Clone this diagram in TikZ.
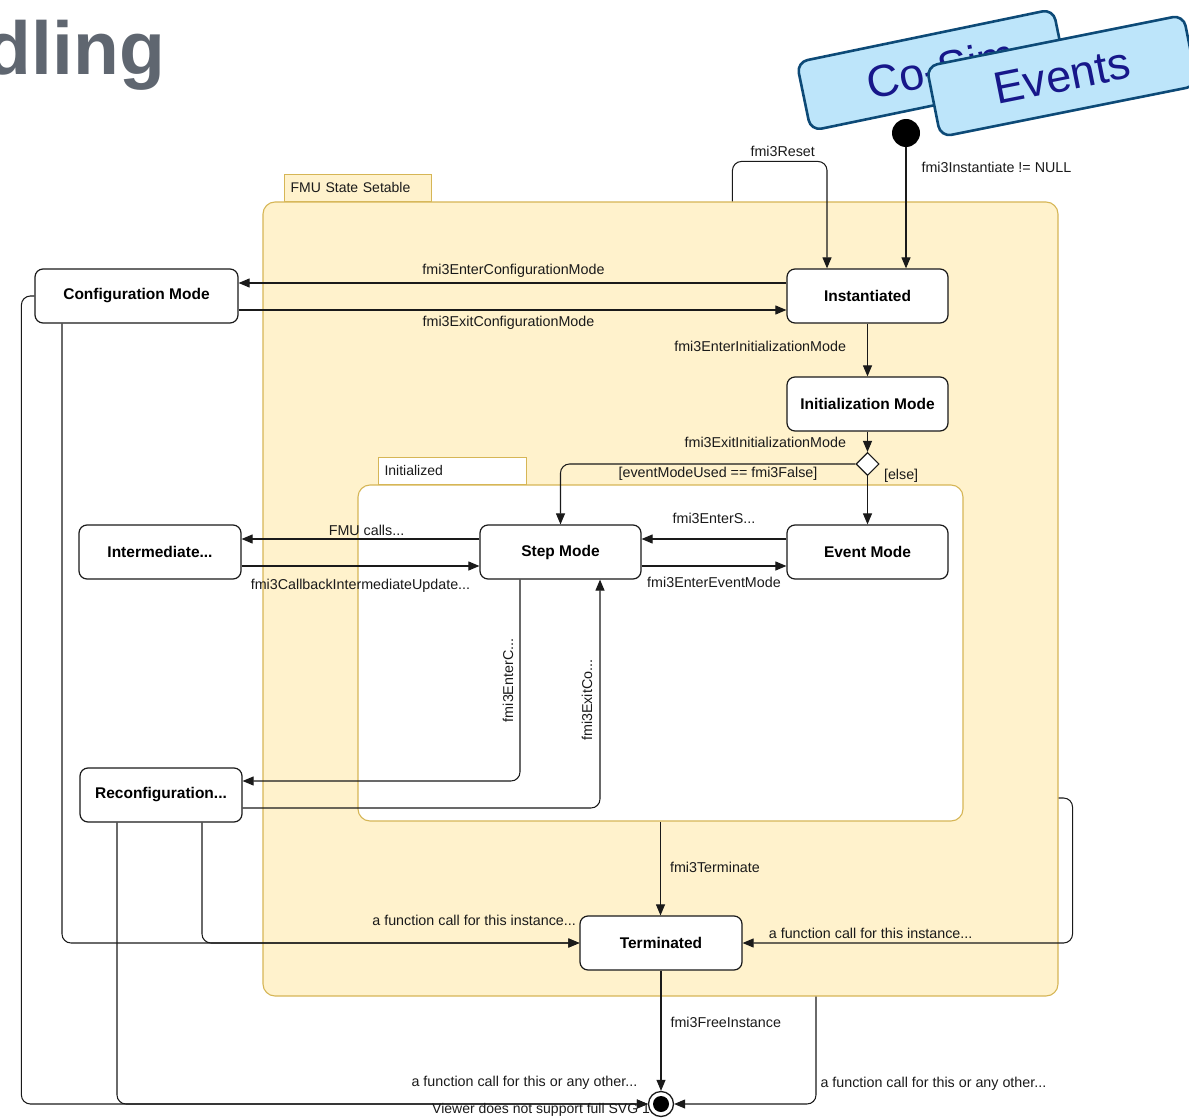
\documentclass[tikz,border=0pt]{standalone}
\usepackage{fontspec}
\setmainfont{Liberation Sans}
\usetikzlibrary{arrows.meta,shapes.geometric,calc}
\definecolor{setfill}{HTML}{FFF2CC}
\definecolor{setline}{HTML}{D6B656}
\definecolor{titlegray}{HTML}{5F6670}
\definecolor{tabfill}{HTML}{BDE5FA}
\definecolor{tabline}{HTML}{0D4A77}
\definecolor{tabtext}{HTML}{17178A}
\definecolor{ink}{HTML}{1A1A1A}
\begin{document}
\begin{tikzpicture}[x=1pt,y=-1pt,
  state/.style={draw=ink, line width=1.2pt, fill=white, rounded corners=8pt,
    minimum width=161pt, minimum height=54pt, inner sep=0pt,
    font=\bfseries\fontsize{15.5}{18}\selectfont},
  region/.style={draw=setline, line width=1.1pt, rounded corners=12pt, inner sep=0pt},
  regiontab/.style={draw=setline, line width=1.1pt, inner ysep=0pt, inner xsep=6pt,
    minimum height=27pt, text width=#1, align=left, anchor=south west,
    font=\fontsize{14}{16}\selectfont, text=ink},
  lbl/.style={font=\fontsize{14.3}{16}\selectfont, inner sep=0pt, text=ink},
  flow/.style={draw=ink, line width=1.05pt, rounded corners=9pt,
    -{Triangle[length=11pt,width=9pt]}},
  banner/.style={draw=tabline, line width=2.6pt, fill=tabfill, rounded corners=11pt,
    inner sep=0pt, text=tabtext, font=\fontsize{45}{50}\selectfont},
]
\useasboundingbox (0,0) rectangle (1189,1118);
\clip (0,0) rectangle (1189,1118);

% heading fragment
\node[anchor=base east, inner sep=0pt, text=titlegray,
  font=\bfseries\fontsize{75}{80}\selectfont] (title) at (165,75) {dling};

% regions
\node[regiontab=135pt, fill=setfill] (fmutab) at (284,202) {FMU State Setable};
\node[region, fill=setfill, minimum width=795pt, minimum height=794pt] (fmu) at (660.5,599) {};
\node[regiontab=136pt, fill=white] (initdtab) at (378,485) {Initialized};
\node[region, fill=white, minimum width=605pt, minimum height=336pt] (initd) at (660.5,653) {};

% states
\node[state, minimum width=203pt] (cfg) at (136.5,296) {Configuration Mode};
\node[state] (inst) at (867.5,296) {Instantiated};
\node[state] (init) at (867.5,404) {Initialization Mode};
\node[state, minimum width=162pt] (inter) at (160,552) {Intermediate...};
\node[state] (step) at (560.5,552) {Step Mode};
\node[state] (event) at (867.5,552) {Event Mode};
\node[state, minimum width=162pt] (reconf) at (161,795) {Reconfiguration...};
\node[state, minimum width=162pt] (term) at (661,943) {Terminated};
\node[diamond, draw=ink, line width=1.1pt, fill=white, minimum size=23pt, inner sep=0pt] (dec) at (867.5,464) {};
\node[circle, fill=black, minimum size=28pt, inner sep=0pt] (start) at (906,133) {};

\node[anchor=west, inner sep=0pt, text=ink, font=\fontsize{14}{16}\selectfont] (viewer) at (432,1110) {Viewer does not support full SVG 1.1};
\node[circle, draw=ink, line width=1.3pt, fill=white, minimum size=25pt, inner sep=0pt] (final) at (661,1104) {};
\fill[black] (final.center) circle (8);

% transitions
\draw[flow] (start.south) -- node[lbl, anchor=west, pos=0.164, xshift=15pt] {fmi3Instantiate != NULL} ([xshift=38.5pt]inst.north);
\draw[flow] ($(fmu.north west)+(470,0)$) -- ++(0,-40) -| node[lbl, pos=0.25, yshift=10pt, xshift=3pt] {fmi3Reset} ([xshift=-40.5pt]inst.north);
\draw[flow] ([yshift=13pt]inst.west) -- node[lbl, yshift=12pt, xshift=1pt] {fmi3EnterConfigurationMode} ([yshift=13pt]cfg.east);
\draw[flow] ([yshift=-14pt]cfg.east) -- node[lbl, yshift=-13pt, xshift=-4pt] {fmi3ExitConfigurationMode} ([yshift=-14pt]inst.west);
\draw[flow] (inst.south) -- node[lbl, anchor=east, pos=0.44, xshift=-21pt] {fmi3EnterInitializationMode} (init.north);
\draw[flow] (init.south) -- node[lbl, anchor=east, pos=0.55, xshift=-21pt] {fmi3ExitInitializationMode} (dec.north);
\draw[flow] (dec.west) -| node[lbl, pos=0.233, yshift=-10pt] {[eventModeUsed == fmi3False]} (step.north);
\draw[flow] (dec.south) -- node[lbl, at start, anchor=west, xshift=16pt] {[else]} (event.north);
\draw[flow] ([yshift=13pt]event.west) -- node[lbl, yshift=21pt] {fmi3EnterS...} ([yshift=13pt]step.east);
\draw[flow] ([yshift=-14pt]step.east) -- node[lbl, yshift=-16pt] {fmi3EnterEventMode} ([yshift=-14pt]event.west);
\draw[flow] ([yshift=13pt]step.west) -- node[lbl, yshift=9pt, xshift=6pt] {FMU calls...} ([yshift=13pt]inter.east);
\draw[flow] ([yshift=-14pt]inter.east) -- node[lbl, yshift=-20pt] {fmi3CallbackIntermediateUpdate...} ([yshift=-14pt]step.west);
\draw[flow] ([xshift=-40.5pt]step.south) |- node[lbl, pos=0.25, xshift=-12pt, rotate=90] {fmi3EnterC...} ([yshift=14pt]reconf.east);
\draw[flow] ([yshift=-13pt]reconf.east) -| node[lbl, pos=0.736, xshift=-13pt, rotate=90] {fmi3ExitCo...} ([xshift=39.5pt]step.south);
\draw[flow] (initd.south) -- node[lbl, anchor=west, pos=0.484, xshift=9pt] {fmi3Terminate} (initd.south |- term.north);
\draw[flow] ([xshift=-74.5pt]cfg.south) |- node[lbl, pos=1, anchor=east, xshift=-3pt, yshift=23pt] {a function call for this instance...} (term.west);
\draw[flow] ([xshift=41pt]reconf.south) |- (term.west);
\draw[flow] ([yshift=-199pt]fmu.east) -- ++(14,0) |- node[lbl, pos=0.806, yshift=10pt] {a function call for this instance...} (term.east);
\draw[flow] (term.south) -- node[lbl, anchor=west, pos=0.43, xshift=9pt] {fmi3FreeInstance} (final.north);
\draw[flow] ([xshift=155.5pt]fmu.south) |- node[lbl, pos=0.5, anchor=west, xshift=4pt, yshift=20pt] {a function call for this or any other...} (final.east);
\draw[flow] (cfg.west) -- ++(-13,0) |- node[lbl, pos=1, anchor=east, xshift=-10pt, yshift=21pt] {a function call for this or any other...} (final.west);
\draw[flow] ([xshift=-44pt]reconf.south) |- (final.west);

% overlapping banners
\node[banner, minimum width=262pt, minimum height=70pt, rotate=11.7] (cosim) at (932,70) {\hspace*{18pt}Co-Sim};
\node[banner, minimum width=262pt, minimum height=72pt, rotate=11.3] (events) at (1062,76) {Events};
\end{tikzpicture}
\end{document}
